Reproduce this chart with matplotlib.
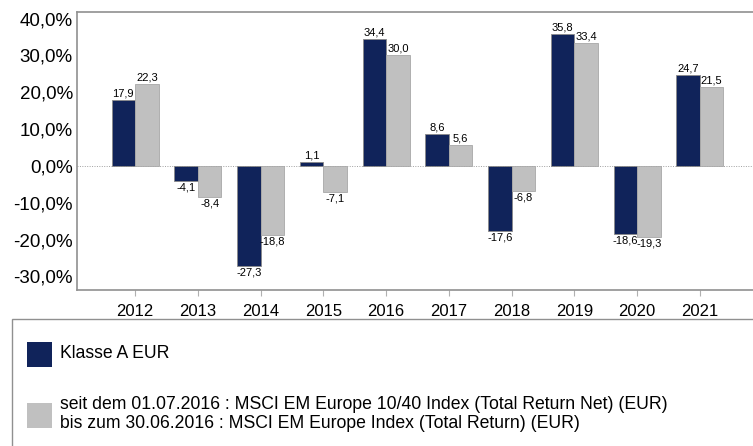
import numpy as np
import matplotlib
matplotlib.use("Agg")
import matplotlib.pyplot as plt
from matplotlib.patches import Rectangle

plt.rcParams['font.family'] = ['Liberation Sans', 'DejaVu Sans']

years = ["2012", "2013", "2014", "2015", "2016", "2017", "2018", "2019", "2020", "2021"]
fund = [17.9, -4.1, -27.3, 1.1, 34.4, 8.6, -17.6, 35.8, -18.6, 24.7]
index = [22.3, -8.4, -18.8, -7.1, 30.0, 5.6, -6.8, 33.4, -19.3, 21.5]
labels = ["Klasse A EUR",
          "seit dem 01.07.2016 : MSCI EM Europe 10/40 Index (Total Return Net) (EUR)\n"
          "bis zum 30.06.2016 : MSCI EM Europe Index (Total Return) (EUR)"]

navy = "#10235a"
grey = "#c0c0c0"

fig = plt.figure(figsize=(7.53, 4.46), dpi=100)
ax = fig.add_axes([77/753, 156/446, 1 - 77/753 + 0.002, 278/446])

x = np.arange(len(years))
w = 0.375
b1 = ax.bar(x - w/2, fund, w, color=navy, edgecolor="#8a8a8a", linewidth=0.6, zorder=3)
b2 = ax.bar(x + w/2, index, w, color=grey, edgecolor="#a8a8a8", linewidth=0.6, zorder=3)

def fmt(v):
    return f"{v:.1f}".replace(".", ",")

for bars, vals in [(b1, fund), (b2, index)]:
    for r, v in zip(bars, vals):
        cx = r.get_x() + r.get_width()/2
        if v >= 0:
            ax.text(cx, v + 0.4, fmt(v), ha="center", va="bottom", fontsize=8)
        else:
            ax.text(cx, v - 0.4, fmt(v), ha="center", va="top", fontsize=8)

ax.axhline(0, color="#a0a0a0", linestyle=(0, (1, 1.5)), linewidth=0.7, zorder=2)

ax.set_xlim(-0.925, 9.87)
ax.set_ylim(-33.7, 41.8)
yt = [40, 30, 20, 10, 0, -10, -20, -30]
ax.set_yticks(yt)
ax.set_yticklabels([f"{t:.1f}".replace(".", ",") + "%" for t in yt], fontsize=13.5)
ax.tick_params(axis="y", length=0, pad=3)
ax.set_xticks(x)
ax.set_xticklabels(years, fontsize=12)
ax.tick_params(axis="x", length=4, color="#b0b0b0", pad=6)

for s in ["left", "top", "bottom", "right"]:
    ax.spines[s].set_color("#909090")
    ax.spines[s].set_linewidth(1.2)
ax.spines["right"].set_visible(False)

# legend box
fig.patches.append(Rectangle((12/753, -0.05), 0.999, (446 - 319)/446 + 0.05,
                             transform=fig.transFigure, facecolor="white",
                             edgecolor="#909090", linewidth=1.0))
fig.patches.append(Rectangle((27/753, (446 - 367)/446), 25/753, 25/446,
                             transform=fig.transFigure, facecolor=navy, edgecolor="none"))
fig.patches.append(Rectangle((27/753, (446 - 428)/446), 25/753, 25/446,
                             transform=fig.transFigure, facecolor=grey, edgecolor="none"))
fig.text(60/753, 1 - 354/446, labels[0], fontsize=12.7, va="center", ha="left")
fig.text(60/753, 1 - 414/446, labels[1], fontsize=12.7, va="center", ha="left", linespacing=1.2)

fig.savefig("out.png", dpi=100)
